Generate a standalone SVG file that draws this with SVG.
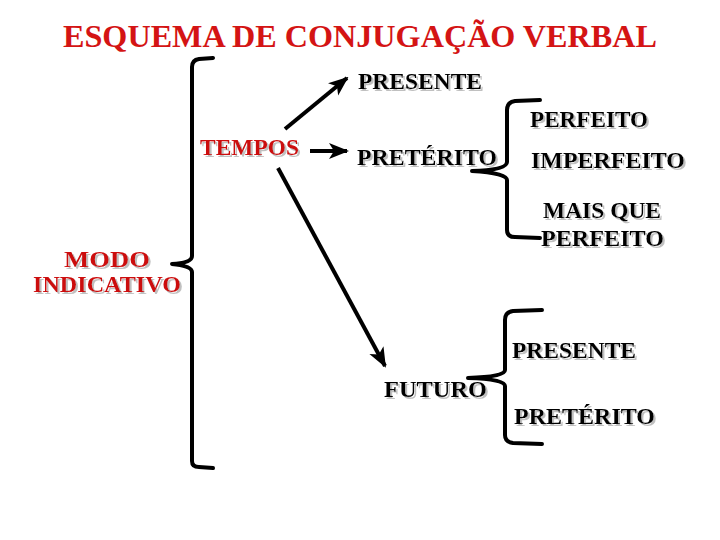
<svg xmlns="http://www.w3.org/2000/svg" width="720" height="540" viewBox="0 0 720 540">
<defs>
<style>
.t{font-family:"Liberation Serif","Times New Roman",serif;font-weight:bold;font-size:23px;fill:#000;filter:url(#sh)}
.r{fill:#cc1111}
.title{font-family:"Liberation Serif","Times New Roman",serif;font-weight:bold;font-size:32px;fill:#d41414}
.ln{fill:none;stroke:#000;stroke-width:4;stroke-linecap:round;stroke-linejoin:round}
.ar{fill:none;stroke:#000;stroke-width:4;stroke-linecap:butt;marker-end:url(#ah)}
</style>
<marker id="ah" markerUnits="userSpaceOnUse" markerWidth="20" markerHeight="20" viewBox="0 0 20 20" refX="18" refY="10" orient="auto">
<path d="M0,2 L20,10 L0,18 L5,10 Z" fill="#000"/>
</marker>
<filter id="sh" x="-5%" y="-20%" width="110%" height="150%">
<feDropShadow dx="2" dy="2" stdDeviation="0.6" flood-color="#b0b0b0" flood-opacity="0.8"/>
</filter>
</defs>
<rect width="720" height="540" fill="#fff"/>
<text class="title" x="63" y="47" textLength="594" lengthAdjust="spacingAndGlyphs">ESQUEMA DE CONJUGAÇÃO VERBAL</text>
<g id="connectors">
<path class="ln" d="M213,58 L199,59 Q192,60 192,67 L192,256 Q192,263 172,264 Q192,266 192,272 L192,461 Q192,467 199,467 L213,468"/>
<path class="ln" d="M540,100 L515,101 Q507,102 507,110 L507,162 Q507,170 472,171 Q507,173 507,180 L507,230 Q507,237 515,237 L540,238"/>
<path class="ln" d="M542,310 L513,311 Q505,312 505,320 L505,370 Q505,377 468,378 Q505,379 505,386 L505,435 Q505,442 513,443 L542,444"/>
<line class="ar" x1="285" y1="129" x2="347" y2="78"/>
<line class="ar" x1="310" y1="151" x2="347" y2="151"/>
<line class="ar" x1="278" y1="168" x2="385" y2="366"/>
</g>
<g id="modo"><text class="t r" x="64" y="267" textLength="86" lengthAdjust="spacingAndGlyphs">MODO</text><text class="t r" x="33" y="292" textLength="148" lengthAdjust="spacingAndGlyphs">INDICATIVO</text></g>
<g id="tempos"><text class="t r" x="200" y="155" textLength="99" lengthAdjust="spacingAndGlyphs">TEMPOS</text></g>
<g id="presente"><text class="t" x="358" y="89" textLength="124" lengthAdjust="spacingAndGlyphs">PRESENTE</text></g>
<g id="preterito"><text class="t" x="357" y="165" textLength="140" lengthAdjust="spacingAndGlyphs">PRETÉRITO</text></g>
<g id="futuro"><text class="t" x="384" y="397" textLength="103" lengthAdjust="spacingAndGlyphs">FUTURO</text></g>
<g id="perfeito"><text class="t" x="530" y="127" textLength="118" lengthAdjust="spacingAndGlyphs">PERFEITO</text></g>
<g id="imperfeito"><text class="t" x="531" y="168" textLength="154" lengthAdjust="spacingAndGlyphs">IMPERFEITO</text></g>
<g id="mais-que-perfeito"><text class="t" x="543" y="218" textLength="118" lengthAdjust="spacingAndGlyphs">MAIS QUE</text><text class="t" x="541" y="246" textLength="123" lengthAdjust="spacingAndGlyphs">PERFEITO</text></g>
<g id="futuro-presente"><text class="t" x="512" y="358" textLength="124" lengthAdjust="spacingAndGlyphs">PRESENTE</text></g>
<g id="futuro-preterito"><text class="t" x="514" y="424" textLength="141" lengthAdjust="spacingAndGlyphs">PRETÉRITO</text></g>
</svg>
